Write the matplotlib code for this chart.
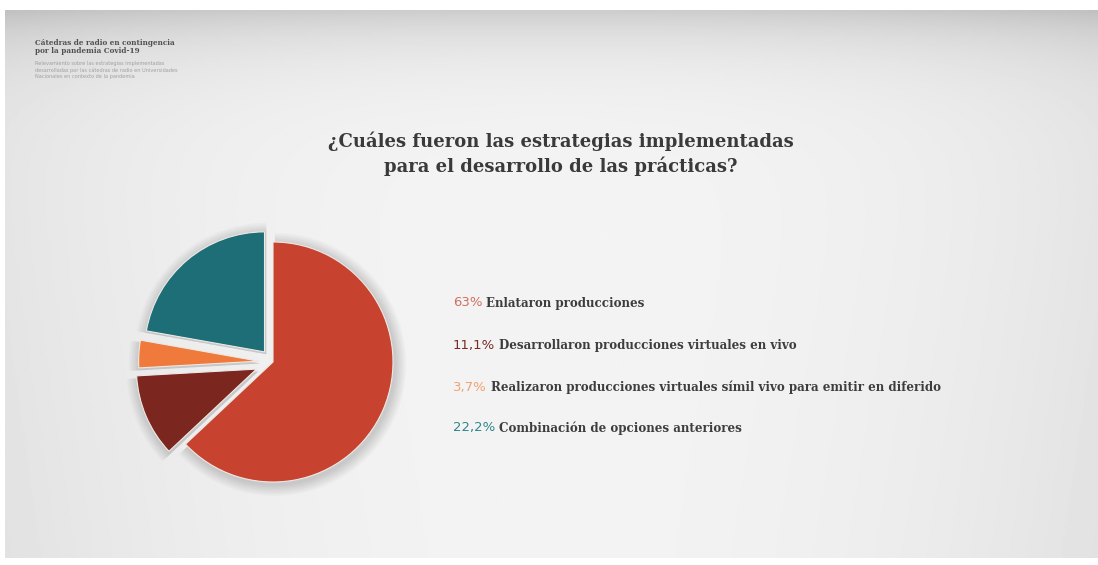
import numpy as np
import matplotlib
matplotlib.use("Agg")
import matplotlib.pyplot as plt

# data
labels = ["Enlataron producciones",
          "Desarrollaron producciones virtuales en vivo",
          "Realizaron producciones virtuales símil vivo para emitir en diferido",
          "Combinación de opciones anteriores"]
pct_text = ["63%", "11,1%", "3,7%", "22,2%"]
values = [63, 11.1, 3.7, 22.2]
colors = ["#c8432f", "#7b2720", "#f07a3c", "#1d6e77"]
pct_colors = ["#d0705f", "#7b2a25", "#f0a373", "#2f8588"]
explode = [0, 0.15, 0.12, 0.11]

title = "¿Cuáles fueron las estrategias implementadas\npara el desarrollo de las prácticas?"
head = "Cátedras de radio en contingencia\npor la pandemia Covid-19"
sub = ("Relevamiento sobre las estrategias implementadas\n"
       "desarrolladas por las cátedras de radio en Universidades\n"
       "Nacionales en contexto de la pandemia")

W, H = 1098, 565
fig = plt.figure(figsize=(W / 100, H / 100), dpi=100)
fig.patch.set_facecolor("white")

# background panel: light grey, darker band at the top and slightly darker sides
bg = fig.add_axes([5 / W, 7 / H, 1093 / W, 548 / H])
yy, xx = np.mgrid[0:1:300j, 0:1:600j]
shade = (0.955 - 0.15 * np.exp(-yy / 0.07)
         - 0.05 * np.abs(xx - 0.5) ** 2.5 * 5.6
         - 0.02 * yy * np.abs(xx - 0.5) * 2)
bg.imshow(shade, cmap="gray", vmin=0, vmax=1, aspect="auto", origin="upper",
          extent=[0, 1, 0, 1])
bg.set_axis_off()

# pie
R = 120
cx, cy = 273, 362
half = R * 1.35
ax = fig.add_axes([(cx - half) / W, (H - cy - half) / H, 2 * half / W, 2 * half / H])
for k in range(8):
    ax.pie(values, explode=explode, startangle=90, counterclock=False,
           radius=1 + 0.012 * (k + 1), center=(0.015, -0.02),
           colors=["#000000"] * 4,
           wedgeprops=dict(alpha=0.02, linewidth=0))
ax.pie(values, explode=explode, startangle=90, counterclock=False,
       colors=colors, wedgeprops=dict(edgecolor="#efe9e6", linewidth=0.8))
ax.set_xlim(-1.35, 1.35)
ax.set_ylim(-1.35, 1.35)
ax.set_aspect("equal")
ax.set_axis_off()

# text
fig.text(561 / W, 1 - 154 / H, title, ha="center", va="center",
         fontsize=13, fontweight="bold", family="DejaVu Serif",
         color="#3a3a3a", linespacing=1.35)

fig.text(35 / W, 1 - 47 / H, head, ha="left", va="center", fontsize=5.2,
         fontweight="bold", family="DejaVu Serif", color="#505050", linespacing=1.15)
fig.text(35 / W, 1 - 70 / H, sub, ha="left", va="center", fontsize=3.6,
         family="DejaVu Sans", color="#a0a0a0", linespacing=1.3)

rows_y = [303, 346, 387, 428]
for lab, p, pc, y in zip(labels, pct_text, pct_colors, rows_y):
    t = fig.text(453 / W, 1 - y / H, p, ha="left", va="center", fontsize=9.5,
                 family="DejaVu Sans", color=pc)
    fig.canvas.draw()
    bb = t.get_window_extent()
    fig.text((bb.x1 + 4) / W, 1 - y / H, lab, ha="left", va="center",
             fontsize=8.6, fontweight="bold", family="DejaVu Serif", color="#3d3d3d")

fig.savefig("out.png", dpi=100)
